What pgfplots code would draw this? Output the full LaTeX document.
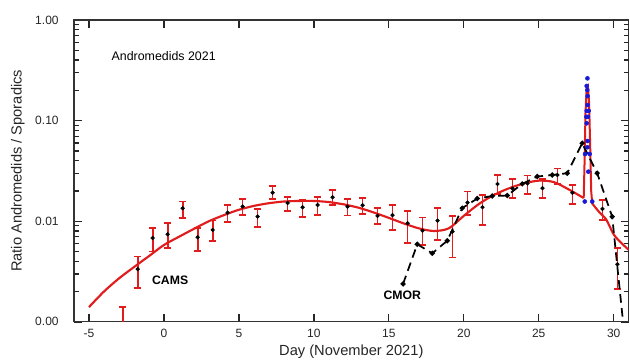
\documentclass[border=0pt]{standalone}
\usepackage{fontspec}
\setmainfont{Liberation Sans}
\usepackage{pgfplots}
\pgfplotsset{compat=1.18}
\usepackage{pgfplotstable}
\definecolor{cRed}{RGB}{225,28,28}
\definecolor{cBlue}{RGB}{25,25,215}

\pgfplotstableread{
x y hi lo
-2.75 0.0008 0.0014 0.0006
-1.75 0.00334 0.00445 0.00216
-0.75 0.00682 0.00863 0.00499
0.25 0.00743 0.00955 0.0054
1.25 0.01346 0.01567 0.01072
2.25 0.00693 0.00863 0.00507
3.25 0.0082 0.01014 0.0064
4.25 0.01216 0.0144 0.0099
5.25 0.01397 0.01653 0.01156
6.25 0.01112 0.01325 0.0087
7.25 0.01923 0.0224 0.01653
8.25 0.0152 0.01754 0.01265
9.25 0.01377 0.01626 0.0111
10.25 0.01452 0.01754 0.01156
11.25 0.0173 0.0205 0.01452
12.25 0.01397 0.01653 0.01138
13.25 0.0144 0.0169 0.0118
14.25 0.0113 0.01364 0.00933
15.25 0.01148 0.01452 0.0082
16.25 0.00955 0.01273 0.00612
17.25 0.00807 0.01087 0.00582
18.25 0.01014 0.01364 0.00652
19.25 0.00789 0.0113 0.00436
20.25 0.01532 0.0197 0.01156
21.25 0.01377 0.01824 0.00918
22.25 0.02344 0.0288 0.01853
23.25 0.0211 0.0261 0.0169
24.25 0.0238 0.0284 0.01866
25.25 0.0213 0.0261 0.0169
26.25 0.0288 0.0335 0.0234
27.25 0.0192 0.0229 0.0148
29.25 0.01325 0.01626 0.0103
30.25 0.00374 0.0054 0.00211
}\cams

\pgfplotstableread{
x y
-5 0.0014
-4 0.0020
-3 0.0027
-2 0.0035
-1 0.0045
0 0.0058
1 0.0070
2 0.0084
3 0.0100
4 0.0115
5 0.0130
6 0.0142
7 0.0151
8 0.0157
9 0.0159
10 0.0159
11 0.0155
12 0.0147
13 0.0136
14 0.0122
15 0.0108
16 0.0095
17 0.0085
18 0.0080
19 0.0085
20 0.0113
21 0.0148
22 0.0182
23 0.0212
24 0.0237
25 0.0253
26 0.0245
27 0.0207
28 0.0170
}\fitA

\pgfplotstableread{
x y
28.0 0.0170
28.06 0.040
28.12 0.12
28.2 0.21
28.28 0.22
28.36 0.15
28.44 0.05
28.5 0.020
28.57 0.0150
}\fitB

\pgfplotstableread{
x y
28.57 0.0150
29 0.0125
29.5 0.0104
30 0.0074
30.5 0.0061
31 0.0052
}\fitC

\pgfplotstableread{
x y
28.07 0.0157
28.57 0.0157
28.25 0.263
28.2 0.221
28.24 0.201
28.26 0.175
28.26 0.143
28.2 0.125
28.33 0.125
28.18 0.109
28.28 0.109
28.2 0.094
28.26 0.0627
28.25 0.0543
28.09 0.0466
28.4 0.0466
28.31 0.0311
}\spike

\pgfplotstableread{
x y
15.95 0.00238
16.9 0.0059
17.9 0.0048
18.9 0.0064
19.9 0.0135
20.9 0.0168
21.9 0.0178
22.9 0.0180
23.9 0.0235
24.9 0.0278
25.9 0.0288
26.9 0.0300
27.9 0.0596
28.9 0.0300
29.9 0.0111
30.9 0.0004
}\cmor

\begin{document}
\begin{tikzpicture}
\begin{axis}[
  name=ax,
  scale only axis, width=416.25pt, height=226.5pt,
  ymode=log, xmin=-6, xmax=31, ymin=0.001, ymax=1,
  xtick={-5,0,5,10,15,20,25,30},
  xticklabels={-5,0,5,10,15,20,25,30},
  ytick={0.001,0.01,0.1,1},
  yticklabels={0.00,0.01,0.10,1.00},
  extra y ticks={0.002,0.003,0.004,0.005,0.006,0.007,0.008,0.009,0.02,0.03,0.04,0.05,0.06,0.07,0.08,0.09,0.2,0.3,0.4,0.5,0.6,0.7,0.8,0.9},
  extra y tick labels={},
  extra y tick style={major tick length=3.5pt},
  tick align=inside, xtick pos=both, ytick pos=both, ticklabel pos=left,
  major tick length=6pt,
  axis line style={line width=0.9pt, black!80},
  tick style={black!85, line width=1pt},
  tick label style={font=\fontsize{9}{10}\selectfont, text=black!85},
  yticklabel style={xshift=-8pt},
  xticklabel style={yshift=-2pt},
  every axis x label/.style={at={(rel axis cs:0.5,-0.099)}, anchor=center, font=\fontsize{11}{12}\selectfont, text=black!85},
  every axis y label/.style={at={(rel axis cs:-0.101,0.5)}, rotate=90, anchor=center, font=\fontsize{11}{12}\selectfont, text=black!85},
  xlabel={Day (November 2021)},
  ylabel={Ratio Andromedids / Sporadics},
]
\addplot[only marks, mark=*, mark size=1.4pt, black,
  error bars/.cd, y dir=both, y explicit,
  error bar style={cRed, line width=1.3pt},
  error mark options={cRed, rotate=90, line width=1.3pt, mark size=2.5pt}]
  table[x=x, y=y, y error plus expr=\thisrow{hi}-\thisrow{y}, y error minus expr=\thisrow{y}-\thisrow{lo}] {\cams};
\addplot[cRed, line width=1.6pt, smooth, no marks] table {\fitA};
\addplot[cRed, line width=1.5pt, no marks] table {\fitB};
\addplot[cRed, line width=1.6pt, smooth, no marks] table {\fitC};
\addplot[black, line width=1.3pt, dash pattern=on 6.5pt off 4pt, mark=*, mark size=1.2pt, mark options={solid}] table {\cmor};
\addplot[only marks, mark=*, mark size=1.5pt, cBlue] table {\spike};
\node[anchor=west, font=\fontsize{9.3}{10}\selectfont] at (axis cs:-3.8,0.44) {Andromedids 2021};
\node[anchor=west, font=\bfseries\fontsize{9.2}{10}\selectfont] at (axis cs:-1.1,0.00261) {CAMS};
\node[anchor=center, font=\bfseries\fontsize{9.2}{10}\selectfont] at (axis cs:15.9,0.00185) {CMOR};
\end{axis}
\pgfresetboundingbox
\path[use as bounding box] ([xshift=-55.5pt, yshift=-30pt]ax.south west) rectangle ([xshift=1pt, yshift=15pt]ax.north east);
\end{tikzpicture}
\end{document}
